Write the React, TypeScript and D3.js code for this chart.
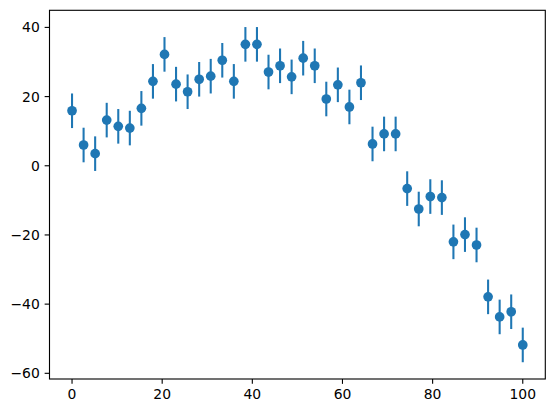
import React from "react";
import * as d3 from "d3";

const xValues: number[] = Array.from({ length: 40 }, (_, i) => (i * 100) / 39);
const yValues: number[] = [
  15.9, 6.0, 3.5, 13.2, 11.4, 10.9, 16.6, 24.4, 32.2, 23.6,
  21.4, 25.0, 25.9, 30.5, 24.4, 35.1, 35.1, 27.1, 28.9, 25.7,
  31.1, 28.9, 19.3, 23.4, 17.0, 24.0, 6.3, 9.2, 9.2, -6.6,
  -12.5, -8.9, -9.2, -22.0, -19.9, -22.9, -37.9, -43.7, -42.2, -51.8,
];
const yErr: number[] = xValues.map(() => 5);
const xTicks: number[] = [0, 20, 40, 60, 80, 100];
const yTicks: number[] = [-60, -40, -20, 0, 20, 40];

const W = 554;
const H = 413;
const left = 49.5;
const right = 545.3;
const top = 10.3;
const bottom = 379;
const color = "#1f77b4";
const font = "DejaVu Sans, sans-serif";

export default function App() {
  const x = d3.scaleLinear().domain([-5, 105]).range([left, right]);
  const lo = d3.min(yValues.map((v, i) => v - yErr[i])) as number;
  const hi = d3.max(yValues.map((v, i) => v + yErr[i])) as number;
  const pad = (hi - lo) * 0.05;
  const y = d3.scaleLinear().domain([lo - pad, hi + pad]).range([bottom, top]);
  const fmt = (v: number) => (v < 0 ? "\u2212" + Math.abs(v) : String(v));
  const tickLen = 4.86;

  return (
    <svg width={W} height={H} style={{ position: "absolute", left: 0, top: 0, background: "#fff" }}>
      <rect x={0} y={0} width={W} height={H} fill="#fff" />
      {xValues.map((xv, i) => (
        <line
          key={"e" + i}
          x1={x(xv)}
          x2={x(xv)}
          y1={y(yValues[i] - yErr[i])}
          y2={y(yValues[i] + yErr[i])}
          stroke={color}
          strokeWidth={2.08}
        />
      ))}
      {xValues.map((xv, i) => (
        <circle key={"p" + i} cx={x(xv)} cy={y(yValues[i])} r={4.85} fill={color} />
      ))}
      <rect
        x={left}
        y={top}
        width={right - left}
        height={bottom - top}
        fill="none"
        stroke="#000"
        strokeWidth={1.11}
      />
      {xTicks.map((t) => (
        <g key={"xt" + t}>
          <line x1={x(t)} x2={x(t)} y1={bottom} y2={bottom + tickLen} stroke="#000" strokeWidth={1.11} />
          <text
            x={x(t)}
            y={bottom + tickLen + 4.86 + 10.6}
            textAnchor="middle"
            fontFamily={font}
            fontSize={13.9}
            fill="#000"
          >
            {fmt(t)}
          </text>
        </g>
      ))}
      {yTicks.map((t) => (
        <g key={"yt" + t}>
          <line x1={left - tickLen} x2={left} y1={y(t)} y2={y(t)} stroke="#000" strokeWidth={1.11} />
          <text
            x={left - tickLen - 4.86}
            y={y(t)}
            dy="0.36em"
            textAnchor="end"
            fontFamily={font}
            fontSize={13.9}
            fill="#000"
          >
            {fmt(t)}
          </text>
        </g>
      ))}
    </svg>
  );
}
